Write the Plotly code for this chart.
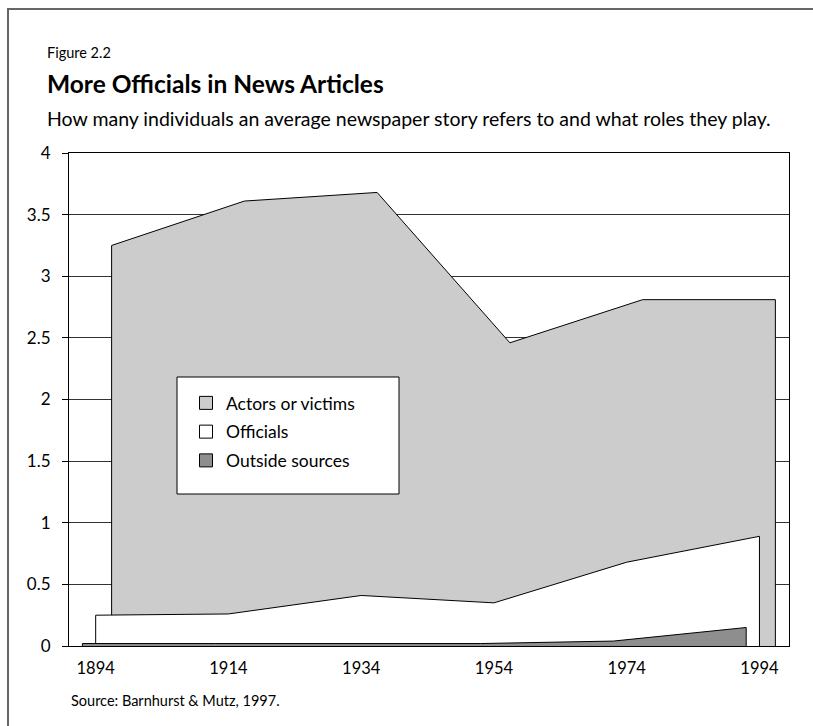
import plotly.graph_objects as go

# ---- data -------------------------------------------------------------
years = [1894, 1914, 1934, 1954, 1974, 1994]
year_labels = ["1894", "1914", "1934", "1954", "1974", "1994"]

actors_or_victims = [3.25, 3.61, 3.68, 2.46, 2.81, 2.81]
officials = [0.25, 0.26, 0.41, 0.35, 0.68, 0.89]
outside_sources = [0.02, 0.02, 0.02, 0.02, 0.04, 0.15]

series_names = ["Actors or victims", "Officials", "Outside sources"]
series_values = [actors_or_victims, officials, outside_sources]

# ---- styling ----------------------------------------------------------
FONT = "Lato"
fills = {"Actors or victims": "#cccccc", "Officials": "#ffffff", "Outside sources": "#8e8e8e"}
# pseudo-3D depth: each row is pushed sideways by a few years
depth_shift = {"Actors or victims": 2.4, "Officials": 0.0, "Outside sources": -2.0}

W, H = 813, 726
L, R, T, B = 69, 24, 153, 80
PW, PH = W - L - R, H - T - B


def px(x):
    return (x - L) / PW


def py(y):
    return (H - B - y) / PH


fig = go.Figure()

# back row first, front row last
for name, vals in zip(series_names, series_values):
    xs = [yr + depth_shift[name] for yr in years]
    fig.add_trace(go.Scatter(
        x=[xs[0]] + xs + [xs[-1]],
        y=[0] + vals + [0],
        mode="lines",
        fill="toself",
        fillcolor=fills[name],
        line=dict(color="#000000", width=1),
        legendgroup=name,
        showlegend=False,
        hoverinfo="skip",
    ))

# legend keys
for name in series_names:
    fig.add_trace(go.Scatter(
        x=[None], y=[None],
        mode="markers",
        name=name,
        legendgroup=name,
        marker=dict(symbol="square", size=13, color=fills[name],
                    line=dict(color="#000000", width=1)),
    ))

fig.update_layout(
    width=W, height=H,
    margin=dict(l=L, r=R, t=T, b=B),
    paper_bgcolor="white",
    plot_bgcolor="white",
    font=dict(family=FONT, size=15, color="#000000"),
    showlegend=True,
    legend=dict(
        x=px(186), y=py(385), xanchor="left", yanchor="top",
        bgcolor="rgba(0,0,0,0)", borderwidth=0,
        font=dict(family=FONT, size=17.5, color="#000000"),
        tracegroupgap=3, itemwidth=30,
    ),
    xaxis=dict(
        range=[1889.98, 1998.45],
        tickmode="array", tickvals=years, ticktext=year_labels,
        showgrid=False, zeroline=False,
        showline=True, linecolor="#000000", linewidth=1, mirror=True,
        ticks="", tickfont=dict(family=FONT, size=16.5),
        ticklabelstandoff=7,
    ),
    yaxis=dict(
        range=[0, 4],
        tickmode="array",
        tickvals=[0, 0.5, 1, 1.5, 2, 2.5, 3, 3.5, 4],
        ticktext=["0", "0.5", "1", "1.5", "2", "2.5", "3", "3.5", "4"],
        showgrid=True, gridcolor="#333333", gridwidth=1,
        zeroline=False,
        showline=True, linecolor="#000000", linewidth=1, mirror=True,
        ticks="outside", ticklen=6, tickcolor="#000000",
        tickfont=dict(family=FONT, size=17),
        ticklabelstandoff=8,
    ),
    shapes=[
        # outer frame
        dict(type="path", xref="paper", yref="paper",
             path=f"M {px(8)},{py(740)} L {px(8)},{py(9)} L {px(830)},{py(9)}",
             line=dict(color="#666666", width=2), layer="below"),
        # legend box
        dict(type="rect", xref="paper", yref="paper",
             x0=px(177), x1=px(399), y0=py(494), y1=py(377),
             fillcolor="white", line=dict(color="#000000", width=1), layer="above"),
    ],
    annotations=[
        dict(text="Figure 2.2", xref="paper", yref="paper", x=px(45), y=py(52),
             xanchor="left", yanchor="middle", showarrow=False,
             font=dict(family=FONT, size=14.5)),
        dict(text="<b>More Officials in News Articles</b>", xref="paper", yref="paper",
             x=px(45), y=py(83), xanchor="left", yanchor="middle", showarrow=False,
             font=dict(family=FONT, size=24.5)),
        dict(text="How many individuals an average newspaper story refers to and what roles they play.",
             xref="paper", yref="paper", x=px(45), y=py(118),
             xanchor="left", yanchor="middle", showarrow=False,
             font=dict(family=FONT, size=19.5)),
        dict(text="Source: Barnhurst & Mutz, 1997.", xref="paper", yref="paper",
             x=px(69), y=py(700), xanchor="left", yanchor="middle", showarrow=False,
             font=dict(family=FONT, size=14.5)),
    ],
)

fig.write_html("out.html")
